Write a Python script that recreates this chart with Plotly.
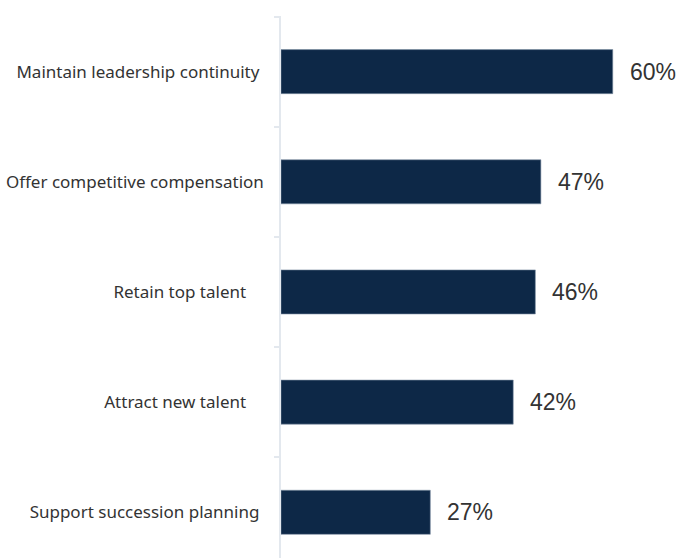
import plotly.graph_objects as go

# Survey results: share of respondents citing each objective
categories = [
    "Maintain leadership continuity",
    "Offer competitive compensation",
    "Retain top talent",
    "Attract new talent",
    "Support succession planning",
]
values = [60, 47, 46, 42, 27]
value_labels = ["60%", "47%", "46%", "42%", "27%"]

# Tick labels carry a little trailing padding so they sit as in the layout
NBSP = "\u00a0"
tick_pad = [1, 0, 4, 4, 1]
tick_text = [c + NBSP * n for c, n in zip(categories, tick_pad)]

BAR_COLOR = "#0d2847"
TEXT_COLOR = "#333333"

fig = go.Figure(
    go.Bar(
        x=values,
        y=categories,
        orientation="h",
        width=0.4,
        marker=dict(color=BAR_COLOR, line=dict(color="#7d8ea3", width=0.6)),
        hoverinfo="skip",
    )
)

for cat, val, lab in zip(categories, values, value_labels):
    fig.add_annotation(
        x=val, y=cat, text=lab, showarrow=False,
        xanchor="left", yanchor="middle", xshift=15,
        font=dict(family="Liberation Sans, Arial, sans-serif", size=23, color=TEXT_COLOR),
    )

fig.update_layout(
    width=679, height=558,
    margin=dict(l=281, r=1, t=16, b=0),
    paper_bgcolor="white", plot_bgcolor="white",
    showlegend=False,
    bargap=0.6,
)
fig.update_xaxes(
    range=[0, 71.8], visible=False, showgrid=False, zeroline=False,
)
fig.update_yaxes(
    type="category",
    categoryorder="array", categoryarray=categories,
    tickvals=categories, ticktext=tick_text,
    range=[4.415, -0.505],
    showline=True, linecolor="#e3e8ee", linewidth=1.5,
    ticks="outside", ticklen=5, tickcolor="#e3e8ee", tickwidth=1.5,
    tickson="boundaries",
    showgrid=False, zeroline=False,
    ticklabelstandoff=12,
    tickfont=dict(family="Noto Sans, sans-serif", size=17, color=TEXT_COLOR),
)

fig.write_html("out.html")
